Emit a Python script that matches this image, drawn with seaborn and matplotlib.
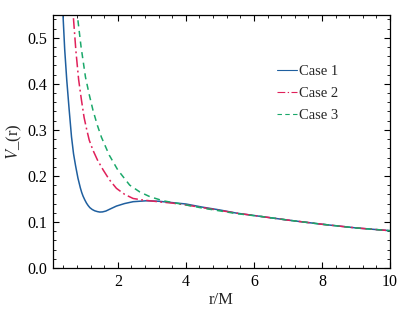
import pandas as pd
import seaborn as sb
import matplotlib
matplotlib.use('Agg')
import matplotlib.pyplot as plt
from matplotlib.ticker import MultipleLocator

# values
r_case1 = [0.34, 0.39, 0.44, 0.50, 0.57, 0.64, 0.70, 0.76, 0.83, 0.90, 0.94, 0.98, 1.03, 1.08, 1.13, 1.18,
           1.25, 1.32, 1.40, 1.47, 1.55, 1.65, 1.8, 1.96, 2.2, 2.45, 2.84, 3.2, 3.6, 4.0, 4.5, 5.0,
           5.5, 6.2, 7.0, 8.0, 9.0, 10.0]
v_case1 = [0.63, 0.55, 0.475, 0.409, 0.345, 0.285, 0.248, 0.222, 0.195, 0.174, 0.164, 0.156, 0.148, 0.141, 0.1355, 0.131,
           0.127, 0.1243, 0.1225, 0.1215, 0.1218, 0.1237, 0.129, 0.1345, 0.140, 0.144, 0.146, 0.145, 0.142, 0.139, 0.132, 0.126,
           0.119, 0.112, 0.104, 0.095, 0.087, 0.081]

r_case2 = [0.62, 0.69, 0.77, 0.85, 0.93, 1.01, 1.08, 1.16, 1.27, 1.40, 1.57, 1.75, 1.96, 2.2, 2.45, 2.7,
           2.94, 3.3, 3.6, 4.0, 4.5, 5.0, 5.5, 6.2, 7.0, 8.0, 9.0, 10.0]
v_case2 = [0.646, 0.55, 0.471, 0.409, 0.366, 0.327, 0.303, 0.278, 0.256, 0.235, 0.213, 0.192, 0.173, 0.160, 0.151, 0.148,
           0.146, 0.143, 0.141, 0.137, 0.131, 0.125, 0.119, 0.112, 0.104, 0.095, 0.087, 0.081]

r_case3 = [0.74, 0.81, 0.92, 1.05, 1.16, 1.27, 1.40, 1.52, 1.75, 2.0, 2.35, 2.65, 2.94, 3.33, 3.7, 4.0,
           4.5, 5.0, 5.5, 6.2, 7.0, 8.0, 9.0, 10.0]
v_case3 = [0.604, 0.55, 0.481, 0.415, 0.377, 0.343, 0.310, 0.284, 0.245, 0.213, 0.180, 0.165, 0.155, 0.146, 0.141, 0.137,
           0.130, 0.124, 0.118, 0.112, 0.104, 0.095, 0.087, 0.081]

case_names = ['Case 1', 'Case 2', 'Case 3']

df = pd.concat([
    pd.DataFrame({'r': r_case1, 'V': v_case1, 'case': case_names[0]}),
    pd.DataFrame({'r': r_case2, 'V': v_case2, 'case': case_names[1]}),
    pd.DataFrame({'r': r_case3, 'V': v_case3, 'case': case_names[2]}),
])

sb.set_style('ticks')
plt.rcParams['font.family'] = ['Liberation Serif', 'DejaVu Serif']
plt.rcParams['mathtext.fontset'] = 'stix'

fig = plt.figure(figsize=(4.15, 3.16), dpi=100)
ax = fig.add_axes([0.128, 0.152, 0.812, 0.801])

palette = {'Case 1': '#1f5f9f', 'Case 2': '#e0205a', 'Case 3': '#1aa86a'}
dashes = {'Case 1': '', 'Case 2': (7, 2.2, 1.2, 2.2), 'Case 3': (4, 3)}

sb.lineplot(data=df, x='r', y='V', hue='case', style='case', palette=palette, dashes=dashes,
            estimator=None, sort=False, linewidth=1.1, ax=ax)

ax.set_xlim(0.1, 10)
ax.set_ylim(0, 0.55)
ax.xaxis.set_major_locator(MultipleLocator(2))
ax.xaxis.set_minor_locator(MultipleLocator(0.4))
ax.yaxis.set_major_locator(MultipleLocator(0.1))
ax.yaxis.set_minor_locator(MultipleLocator(0.02))
ax.tick_params(which='both', direction='in', top=True, right=True, labelsize=11.5, colors='black')
ax.tick_params(which='major', length=4.5, width=0.8, pad=4)
ax.tick_params(which='minor', length=2.5, width=0.6)
for s in ax.spines.values():
    s.set_linewidth(0.9)
    s.set_color('black')

ax.set_xlabel('r/M', fontsize=12, labelpad=2)
ax.set_ylabel(r'$V$_(r)', fontsize=12, labelpad=3)

leg = ax.legend(loc='upper left', bbox_to_anchor=(0.625, 0.855), frameon=False, handlelength=1.4,
                handletextpad=0.15, labelspacing=0.6, fontsize=10.5)
for h in leg.get_lines():
    h.set_linewidth(0.8)

fig.savefig('out.png', dpi=100)
